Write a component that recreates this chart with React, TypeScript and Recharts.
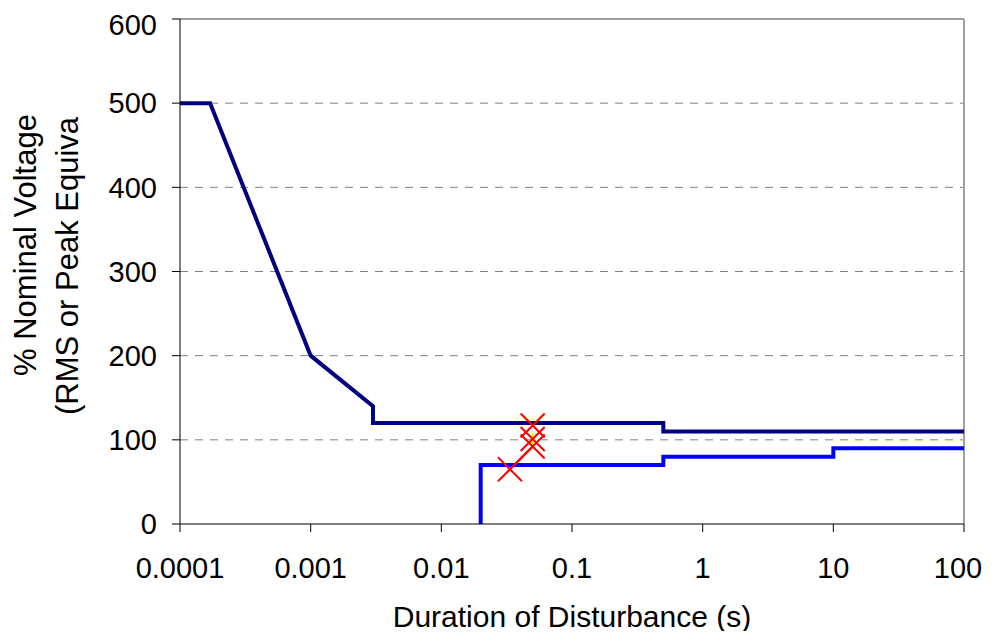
import React from 'react';
import {
  ComposedChart,
  XAxis,
  YAxis,
  CartesianGrid,
  Line,
  Scatter,
  ReferenceLine,
} from 'recharts';

// upper limit curve (s, % nominal)
const upperX = [0.0001, 0.00017, 0.001, 0.003, 0.003, 0.5, 0.5, 100];
const upperY = [500, 500, 200, 140, 120, 120, 110, 110];

// lower limit curve
const lowerX = [0.02, 0.02, 0.5, 0.5, 10, 10, 100];
const lowerY = [0, 70, 70, 80, 80, 90, 90];

// measured events
const eventX = [0.0335, 0.05, 0.05, 0.05];
const eventY = [65, 92, 101, 117];

// link between events
const linkX = [0.0335, 0.05];
const linkY = [65, 92];
const spanX = [0.05, 0.05];
const spanY = [94, 109];

const xTicks = [0.0001, 0.001, 0.01, 0.1, 1, 10, 100];
const xTickLabels = ['0.0001', '0.001', '0.01', '0.1', '1', '10', '100'];
const yTicks = [0, 100, 200, 300, 400, 500, 600];

const zip = (xs: number[], ys: number[]) => xs.map((x, i) => ({ x, y: ys[i] }));

const upper = zip(upperX, upperY);
const lower = zip(lowerX, lowerY);
const events = zip(eventX, eventY);
const link = zip(linkX, linkY);
const span = zip(spanX, spanY);

const FONT = '"Liberation Sans", Arial, sans-serif';

const Cross = (props: any) => {
  const { cx, cy } = props;
  const r = 12;
  return (
    <g stroke="#FF0000" strokeWidth={2}>
      <line x1={cx - r} y1={cy - r} x2={cx + r} y2={cy + r} />
      <line x1={cx - r} y1={cy + r} x2={cx + r} y2={cy - r} />
    </g>
  );
};

// last label nudged left so it stays inside the picture
const XTick = (props: any) => {
  const { x, y, payload } = props;
  const i = xTicks.indexOf(payload.value);
  const shift = i === xTicks.length - 1 ? -6 : 0;
  return (
    <text x={x + shift} y={y} dy="0.71em" textAnchor="middle" fill="#000" fontSize={29} fontFamily={FONT}>
      {xTickLabels[i] ?? String(payload.value)}
    </text>
  );
};

const YTitle = () => (
  <g fontFamily={FONT} fontSize={31} fill="#000">
    <text x={17} y={237} textAnchor="middle" dominantBaseline="central" transform="rotate(-90 17 237)">
      % Nominal Voltage
    </text>
    <text x={59} y={407} textAnchor="start" dominantBaseline="central" transform="rotate(-90 59 407)">
      (RMS or Peak Equiva
    </text>
  </g>
);

const XTitle = () => (
  <text x={564} y={608} textAnchor="middle" dominantBaseline="central" fontFamily={FONT} fontSize={30} fill="#000">
    Duration of Disturbance (s)
  </text>
);

export default function App() {
  return (
    <div style={{ width: 977, height: 623, background: '#fff' }}>
      <ComposedChart
        width={977}
        height={623}
        margin={{ top: 11, right: 21, left: 0, bottom: 0 }}
        style={{ fontFamily: FONT }}
      >
        <CartesianGrid
          horizontal
          vertical={false}
          stroke="#808080"
          strokeDasharray="8 7"
          horizontalValues={[100, 200, 300, 400, 500]}
        />
        <ReferenceLine y={600} stroke="#A0A0A0" strokeWidth={2} />
        <ReferenceLine x={100} stroke="#A0A0A0" strokeWidth={2} />
        <XAxis
          dataKey="x"
          type="number"
          scale="log"
          domain={[0.0001, 100]}
          ticks={xTicks}
          allowDataOverflow
          height={107}
          stroke="#000"
          tickSize={8}
          tickMargin={25}
          tick={<XTick />}
          label={{ content: () => <XTitle /> }}
        />
        <YAxis
          dataKey="y"
          type="number"
          domain={[0, 600]}
          ticks={yTicks}
          width={172}
          stroke="#000"
          tickSize={8}
          tickMargin={15}
          tick={{ fill: '#000', fontSize: 29 }}
          label={{ content: () => <YTitle /> }}
        />
        <Line data={upper} dataKey="y" type="linear" stroke="#000080" strokeWidth={4} dot={false} isAnimationActive={false} />
        <Line data={lower} dataKey="y" type="linear" stroke="#0000FF" strokeWidth={4} dot={false} isAnimationActive={false} />
        <Line data={link} dataKey="y" type="linear" stroke="#FF0000" strokeWidth={2} dot={false} isAnimationActive={false} />
        <Line data={span} dataKey="y" type="linear" stroke="#FFFF00" strokeWidth={2} dot={false} isAnimationActive={false} />
        <Scatter data={events} dataKey="y" shape={<Cross />} isAnimationActive={false} />
      </ComposedChart>
    </div>
  );
}
